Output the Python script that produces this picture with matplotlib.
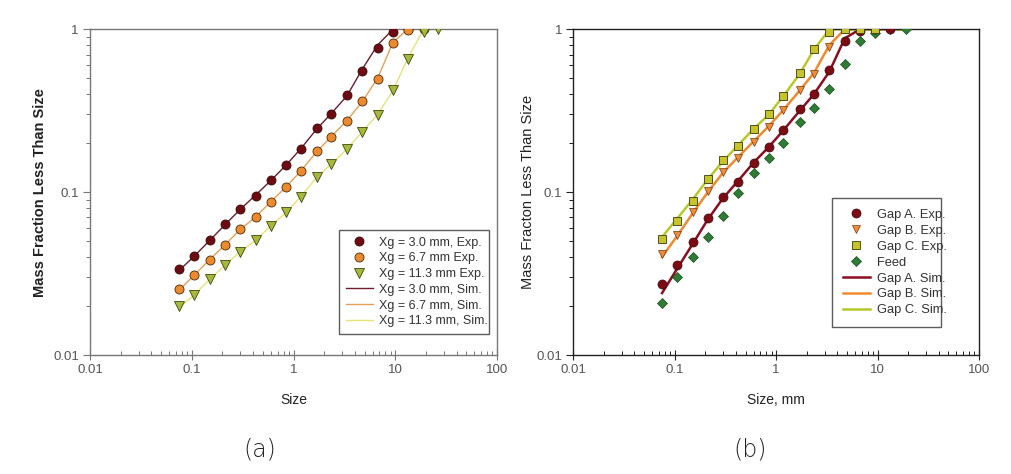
import matplotlib
matplotlib.use("Agg")
import matplotlib.pyplot as plt
from matplotlib.ticker import LogLocator, FixedLocator, NullFormatter
from matplotlib.lines import Line2D

plt.rcParams['font.family'] = ['Liberation Sans', 'DejaVu Sans']

# ---------------- data (a) ----------------
sieve = [0.075, 0.106, 0.15, 0.212, 0.3, 0.425, 0.6, 0.85, 1.18, 1.7,
         2.36, 3.35, 4.75, 6.7, 9.5, 13.2, 19.0, 26.5]

a_xg30_exp = [0.0337, 0.0407, 0.0505, 0.0636, 0.079, 0.095, 0.1185, 0.147,
              0.1845, 0.249, 0.302, 0.394, 0.555, 0.768, 0.962, 1.0]
a_xg67_exp = [0.0255, 0.0311, 0.0385, 0.0475, 0.059, 0.0703, 0.0876, 0.108,
              0.135, 0.179, 0.219, 0.275, 0.362, 0.494, 0.828, 0.99, 1.0]
a_xg113_exp = [0.0199, 0.0234, 0.0292, 0.0355, 0.0432, 0.0505, 0.0624, 0.075,
               0.094, 0.1247, 0.1486, 0.1836, 0.2355, 0.298, 0.424, 0.655, 0.962, 1.0]

a_xg30_sim = [0.0330, 0.0405, 0.0505, 0.0630, 0.0785, 0.0960, 0.1180, 0.1470,
              0.1850, 0.2450, 0.3050, 0.3900, 0.5700, 0.8000, 1.0, 1.0]
a_xg67_sim = [0.0250, 0.0310, 0.0385, 0.0475, 0.0590, 0.0705, 0.0875, 0.1080,
              0.1350, 0.1780, 0.2200, 0.2750, 0.3600, 0.5000, 0.8300, 1.0, 1.0]
a_xg113_sim = [0.0195, 0.0234, 0.0292, 0.0355, 0.0432, 0.0505, 0.0624, 0.0750,
               0.0940, 0.1240, 0.1490, 0.1840, 0.2350, 0.3000, 0.4200, 0.6600, 1.0, 1.0]

# ---------------- data (b) ----------------
b_gapA_exp = [0.0274, 0.0358, 0.0493, 0.0692, 0.0932, 0.116, 0.152, 0.1905,
              0.241, 0.326, 0.401, 0.565, 0.844, 0.98, 1.0, 1.0]
b_gapB_exp = [0.0418, 0.0547, 0.0754, 0.101, 0.1337, 0.162, 0.204, 0.253,
              0.320, 0.424, 0.532, 0.782, 1.0, 1.0, 1.0]
b_gapC_exp = [0.0517, 0.0664, 0.0888, 0.1207, 0.157, 0.193, 0.2455, 0.302,
              0.390, 0.542, 0.754, 0.962, 1.0, 1.0, 1.0]
b_feed = [0.0208, 0.0301, 0.0399, 0.0534, 0.0709, 0.0986, 0.131, 0.162,
          0.2016, 0.271, 0.330, 0.430, 0.610, 0.848, 0.953, 1.0, 1.0]

b_gapA_sim = [0.0240, 0.0340, 0.0480, 0.0680, 0.0920, 0.1180, 0.1520, 0.1900,
              0.2400, 0.3150, 0.4000, 0.5500, 0.8800, 1.0, 1.0, 1.0, 1.0]
b_gapB_sim = [0.0400, 0.0540, 0.0740, 0.1000, 0.1320, 0.1650, 0.2050, 0.2550,
              0.3200, 0.4200, 0.5400, 0.8000, 1.0, 1.0, 1.0, 1.0, 1.0]
b_gapC_sim = [0.0530, 0.0690, 0.0900, 0.1200, 0.1550, 0.1950, 0.2450, 0.3000,
              0.3900, 0.5300, 0.7500, 1.0, 1.0, 1.0, 1.0, 1.0, 1.0]

a_labels = ['Xg = 3.0 mm, Exp.', 'Xg = 6.7 mm Exp.', 'Xg = 11.3 mm Exp.',
            'Xg = 3.0 mm, Sim.', 'Xg = 6.7 mm, Sim.', 'Xg = 11.3 mm, Sim.']
b_labels = ['Gap A. Exp.', 'Gap B. Exp.', 'Gap C. Exp.', 'Feed',
            'Gap A. Sim.', 'Gap B. Sim.', 'Gap C. Sim.']

# ---------------- figure ----------------
fig = plt.figure(figsize=(10.11, 4.74), dpi=100)
axA = fig.add_axes([90 / 1011, 1 - 355 / 474, (497 - 90) / 1011, (355 - 29.3) / 474])
axB = fig.add_axes([573.3 / 1011, 1 - 355 / 474, (979 - 573.3) / 1011, (355 - 29.3) / 474])


def style_axis(ax, spine_color):
    ax.set_xscale('log')
    ax.set_yscale('log')
    ax.set_xlim(0.01, 100)
    ax.set_ylim(0.01, 1)
    for s in ax.spines.values():
        s.set_color(spine_color)
        s.set_linewidth(1.0)
    ax.xaxis.set_major_locator(FixedLocator([0.01, 0.1, 1, 10, 100]))
    ax.yaxis.set_major_locator(FixedLocator([0.01, 0.1, 1]))
    ax.xaxis.set_minor_locator(LogLocator(base=10, subs=range(2, 10), numticks=20))
    ax.yaxis.set_minor_locator(LogLocator(base=10, subs=range(2, 10), numticks=20))
    ax.xaxis.set_minor_formatter(NullFormatter())
    ax.yaxis.set_minor_formatter(NullFormatter())
    ax.set_xticklabels(['0.01', '0.1', '1', '10', '100'])
    ax.set_yticklabels(['0.01', '0.1', '1'])
    ax.tick_params(axis='x', which='major', direction='inout', length=7, width=0.8,
                   color=spine_color, labelsize=9.5, labelcolor='#555555', pad=3)
    ax.tick_params(axis='x', which='minor', direction='in', length=3, width=0.7,
                   color=spine_color)
    ax.tick_params(axis='y', which='major', direction='out', length=5, width=0.8,
                   color=spine_color, labelsize=9.5, labelcolor='#555555', pad=3)
    ax.tick_params(axis='y', which='minor', direction='out', length=3, width=0.7,
                   color=spine_color)


style_axis(axA, '#777777')
style_axis(axB, '#222222')

# ---- panel (a) ----
c1, c2, c3 = '#6e0a12', '#ee8a2e', '#a8b83c'
l1, l2, l3 = '#6a1e2e', '#e8a055', '#e6e27a'
axA.plot(sieve[:len(a_xg30_sim)], a_xg30_sim, color=l1, lw=1.0, zorder=2)
axA.plot(sieve[:len(a_xg67_sim)], a_xg67_sim, color=l2, lw=1.0, zorder=2)
axA.plot(sieve[:len(a_xg113_sim)], a_xg113_sim, color=l3, lw=1.0, zorder=2)
axA.plot(sieve[:len(a_xg30_exp)], a_xg30_exp, 'o', ms=6.5, mfc=c1, mec='#3a0a0a', mew=0.6, ls='none', zorder=3)
axA.plot(sieve[:len(a_xg67_exp)], a_xg67_exp, 'o', ms=6.5, mfc=c2, mec='#4a2a0a', mew=0.6, ls='none', zorder=3)
axA.plot(sieve[:len(a_xg113_exp)], a_xg113_exp, 'v', ms=6.5, mfc=c3, mec='#3a4a0a', mew=0.6, ls='none', zorder=3)

hA = [Line2D([], [], marker='o', ls='none', ms=6.5, mfc=c1, mec='#3a0a0a', mew=0.6),
      Line2D([], [], marker='o', ls='none', ms=6.5, mfc=c2, mec='#4a2a0a', mew=0.6),
      Line2D([], [], marker='v', ls='none', ms=6.5, mfc=c3, mec='#3a4a0a', mew=0.6),
      Line2D([], [], color=l1, lw=1.0),
      Line2D([], [], color=l2, lw=1.0),
      Line2D([], [], color=l3, lw=1.0)]
legA = axA.legend(hA, a_labels, loc='lower left', bbox_to_anchor=(0.611, 0.064, 0.37, 0.35),
                  mode='expand', frameon=True, fancybox=False, fontsize=9.0,
                  handlelength=2.2, handletextpad=0.5, borderpad=0.55, labelspacing=0.3,
                  borderaxespad=0)
legA.get_frame().set_edgecolor('#333333')
legA.get_frame().set_linewidth(1.0)
for t in legA.get_texts():
    t.set_color('#333333')

axA.set_xlabel('Size', fontsize=10, color='#222222', labelpad=12)
axA.set_ylabel('Mass Fraction Less Than Size', fontsize=10.5, fontweight='bold',
               color='#222222', labelpad=4)

# ---- panel (b) ----
cA, cB, cC, cF = '#7c0b14', '#ee8c3a', '#c6c42a', '#2f7d34'
lA, lB, lC = '#8a1020', '#f08a30', '#b8c82a'
axB.plot(sieve[:len(b_gapA_sim)], b_gapA_sim, color=lA, lw=1.8, zorder=2)
axB.plot(sieve[:len(b_gapB_sim)], b_gapB_sim, color=lB, lw=1.8, zorder=2)
axB.plot(sieve[:len(b_gapC_sim)], b_gapC_sim, color=lC, lw=1.8, zorder=2)
axB.plot(sieve[:len(b_feed)], b_feed, 'D', ms=5.5, mfc=cF, mec='#1c4a1c', mew=0.5, ls='none', zorder=3)
axB.plot(sieve[:len(b_gapA_exp)], b_gapA_exp, 'o', ms=6.5, mfc=cA, mec='#3a0a0a', mew=0.5, ls='none', zorder=3)
axB.plot(sieve[:len(b_gapB_exp)], b_gapB_exp, 'v', ms=6.0, mfc=cB, mec='#7a3a10', mew=0.5, ls='none', zorder=3)
axB.plot(sieve[:len(b_gapC_exp)], b_gapC_exp, 's', ms=6.0, mfc=cC, mec='#3a3a0a', mew=0.6, ls='none', zorder=3)

hB = [Line2D([], [], marker='o', ls='none', ms=6.5, mfc=cA, mec='#3a0a0a', mew=0.5),
      Line2D([], [], marker='v', ls='none', ms=6.0, mfc=cB, mec='#7a3a10', mew=0.5),
      Line2D([], [], marker='s', ls='none', ms=6.0, mfc=cC, mec='#3a3a0a', mew=0.6),
      Line2D([], [], marker='D', ls='none', ms=5.5, mfc=cF, mec='#1c4a1c', mew=0.5),
      Line2D([], [], color=lA, lw=1.8),
      Line2D([], [], color=lB, lw=1.8),
      Line2D([], [], color=lC, lw=1.8)]
legB = axB.legend(hB, b_labels, loc='lower left', bbox_to_anchor=(0.637, 0.085, 0.27, 0.396),
                  mode='expand', frameon=True, fancybox=False, fontsize=9.3,
                  handlelength=2.1, handletextpad=0.55, borderpad=0.85, labelspacing=0.3,
                  borderaxespad=0)
legB.get_frame().set_edgecolor('#333333')
legB.get_frame().set_linewidth(1.0)
for t in legB.get_texts():
    t.set_color('#333333')

axB.set_xlabel('Size, mm', fontsize=10, color='#222222', labelpad=12)
axB.set_ylabel('Mass Fracton Less Than Size', fontsize=10.5, color='#222222', labelpad=1)

fig.text(260 / 1011, 1 - 450 / 474, '(a)', fontsize=17, ha='center', va='center',
         color='#222222', family=['DejaVu Sans'], fontweight='light')
fig.text(750 / 1011, 1 - 450 / 474, '(b)', fontsize=17, ha='center', va='center',
         color='#222222', family=['DejaVu Sans'], fontweight='light')

fig.savefig('out.png', dpi=100)
